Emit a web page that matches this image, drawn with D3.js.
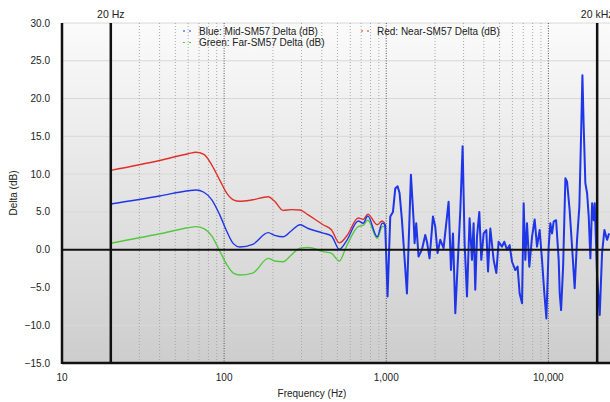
<!DOCTYPE html>
<html>
<head>
<meta charset="utf-8">
<script src="https://cdn.jsdelivr.net/npm/d3@7"></script>
<style>
  body { margin: 0; background: #fff; }
  text { font-family: "Liberation Sans", Arial, sans-serif; fill: #222; }
</style>
</head>
<body>
<svg id="chart"></svg>
<script>
// low-frequency part: three mic deltas (Hz, dB)
const lowFreqs = [20, 40, 60, 67, 75, 84, 94, 104, 114, 125, 150, 187, 205, 231, 260, 294, 330, 408, 460, 513, 570, 672, 720, 770, 880, 944, 980];
const redValues = [10.5, 11.8, 12.7, 12.9, 12.6, 11.2, 9.2, 7.45, 6.6, 6.4, 6.6, 7.0, 6.4, 5.2, 5.3, 5.25, 4.6, 3.3, 2.6, 0.9, 1.8, 4.2, 4.0, 4.7, 3.3, 3.8, 3.5];
const blueValues = [6.05, 7.1, 7.8, 7.9, 7.6, 6.6, 4.6, 2.4, 0.8, 0.35, 0.7, 2.25, 1.9, 1.7, 2.5, 3.3, 2.8, 2.2, 1.8, 0.05, 1.2, 3.8, 3.5, 4.45, 1.7, 3.5, 3.4];
const greenValues = [0.85, 2.1, 2.9, 3.05, 2.8, 1.8, -0.2, -2.0, -3.1, -3.35, -3.1, -1.15, -1.5, -1.6, -0.7, 0.2, 0.3, -0.25, -0.5, -1.5, 0.5, 3.05, 3.2, 3.9, 1.5, 3.05, 3.1];

// high-frequency part: blue only (Hz, dB)
const hfFreqs = [986, 1019, 1059, 1100, 1137, 1175, 1208, 1250, 1342, 1420, 1475, 1496, 1531, 1582, 1660, 1740, 1783, 1850, 1942, 2006,
  2073, 2154, 2258, 2425, 2508, 2581, 2667, 2864, 2959, 3044, 3148, 3267, 3379, 3458, 3541, 3628, 3750, 3857, 3988, 4143,
  4244, 4386, 4596, 4775, 4933, 5176, 5348, 5559, 5768, 5970, 6253, 6460, 6650, 6880, 7041, 7209, 7384, 7632, 7929, 8232,
  8511, 8838, 9138, 9446, 9720, 10047, 10285, 10537, 10783, 11163, 11580, 11750, 11980, 12330, 12739, 13040, 13526, 14000, 14530, 15030, 15530,
  15910, 16220, 16520, 16910, 17330, 17740, 18160, 18620, 19050, 19320, 19990, 20740, 21440, 22170, 23020, 23700];
const hfValues = [3.05, -6.2, 4.4, 5.0, 8.1, 8.4, 7.5, 3.9, -5.8, 9.9, 3.9, 0.85, 3.5, -0.9, 0.0, 1.95, 1.05, -1.15, 4.4, 3.05,
  -0.45, 1.3, 0.2, 6.35, -2.7, 2.15, -8.4, 5.25, 13.7, 0.85, -6.2, 4.15, -1.35, 3.5, -5.3, 1.7, 5.0, -1.35, 2.15, 2.6,
  -2.9, 2.8, -1.35, -3.1, 1.05, 0.4, 1.05, 0.0, 0.6, -1.6, -2.7, -2.25, -5.8, -7.1, 6.15, -1.35, 3.5, -2.25, 1.7, 4.0,
  0.4, 2.6, -1.35, -5.8, -9.1, 0.4, 3.5, 2.15, 3.7, 3.9, -1.35, -5.8, -8.0, -2.25, 9.45, 9.0, 5.25, 0.4, -5.1, 1.3, 5.7,
  15.0, 23.1, 16.3, 8.8, 7.5, 4.4, -1.15, 6.15, 3.9, 6.15, -3.6, -8.65, -0.45, 2.6, 1.3, 2.15];

const yTicks = [-15, -10, -5, 0, 5, 10, 15, 20, 25, 30];
const xTicks = [10, 100, 1000, 10000];
const gridFreqs = [20, 30, 40, 50, 60, 70, 80, 90, 200, 300, 400, 500, 600, 700, 800, 900,
  2000, 3000, 4000, 5000, 6000, 7000, 8000, 9000, 20000];
const decadeFreqs = [100, 1000, 10000];

const width = 610, height = 402;
const margin = { left: 62, right: 610, top: 23, bottom: 363 };

const svg = d3.select('#chart').attr('width', width).attr('height', height);

const x = d3.scaleLog().domain([10, 24000]).range([margin.left, margin.right]);
const y = d3.scaleLinear().domain([-15, 30]).range([margin.bottom, margin.top]);

const defs = svg.append('defs');
const grad = defs.append('linearGradient')
  .attr('id', 'bg').attr('x1', 0).attr('y1', 0).attr('x2', 0).attr('y2', 1);
grad.append('stop').attr('offset', '0%').attr('stop-color', '#fbfbfb');
grad.append('stop').attr('offset', '100%').attr('stop-color', '#cdcdcd');

svg.append('rect')
  .attr('x', margin.left).attr('y', margin.top)
  .attr('width', margin.right - margin.left).attr('height', margin.bottom - margin.top)
  .attr('fill', 'url(#bg)');

// horizontal grid
svg.append('g').selectAll('line')
  .data(yTicks)
  .enter().append('line')
  .attr('x1', margin.left).attr('x2', margin.right)
  .attr('y1', d => y(d)).attr('y2', d => y(d))
  .attr('stroke', '#d8d8d8').attr('stroke-width', 1);

// vertical grid
svg.append('g').selectAll('line')
  .data(gridFreqs)
  .enter().append('line')
  .attr('x1', d => x(d)).attr('x2', d => x(d))
  .attr('y1', margin.top).attr('y2', margin.bottom)
  .attr('stroke', '#a8a8a8').attr('stroke-width', 1)
  .attr('stroke-dasharray', '1,2');

svg.append('g').selectAll('line')
  .data(decadeFreqs)
  .enter().append('line')
  .attr('x1', d => x(d)).attr('x2', d => x(d))
  .attr('y1', margin.top).attr('y2', margin.bottom)
  .attr('stroke', '#555').attr('stroke-width', 1)
  .attr('stroke-dasharray', '1,1.5');

// curves
const line = d3.line()
  .x(d => x(d[0]))
  .y(d => y(d[1]))
  .curve(d3.curveMonotoneX);

const hfLine = d3.line()
  .x(d => x(d[0]))
  .y(d => y(d[1]));

svg.append('path')
  .datum(lowFreqs.map((f, i) => [f, greenValues[i]]))
  .attr('d', line).attr('fill', 'none')
  .attr('stroke', '#55c840').attr('stroke-width', 1.4);

svg.append('path')
  .datum(lowFreqs.map((f, i) => [f, redValues[i]]))
  .attr('d', line).attr('fill', 'none')
  .attr('stroke', '#e0302a').attr('stroke-width', 1.4);

svg.append('path')
  .datum(lowFreqs.map((f, i) => [f, blueValues[i]]))
  .attr('d', line).attr('fill', 'none')
  .attr('stroke', '#1f35e8').attr('stroke-width', 1.4);

const hfData = [[lowFreqs[lowFreqs.length - 1], blueValues[blueValues.length - 1]]]
  .concat(hfFreqs.map((f, i) => [f, hfValues[i]]));

svg.append('path')
  .datum(hfData)
  .attr('d', hfLine).attr('fill', 'none')
  .attr('stroke', '#1f35e8').attr('stroke-width', 2)
  .attr('stroke-linejoin', 'round');

// heavy lines: borders, 20 Hz / 20 kHz, zero
const heavy = svg.append('g').attr('stroke', '#111');
heavy.append('line').attr('x1', margin.left).attr('x2', margin.left)
  .attr('y1', margin.top).attr('y2', margin.bottom + 1).attr('stroke-width', 2.5);
heavy.append('line').attr('x1', margin.left).attr('x2', margin.right)
  .attr('y1', margin.bottom).attr('y2', margin.bottom).attr('stroke-width', 2.5);
heavy.append('line').attr('x1', margin.left).attr('x2', margin.right)
  .attr('y1', y(0)).attr('y2', y(0)).attr('stroke-width', 2);
heavy.selectAll('.limit')
  .data([20, 20000])
  .enter().append('line')
  .attr('x1', d => x(d)).attr('x2', d => x(d))
  .attr('y1', margin.top).attr('y2', margin.bottom)
  .attr('stroke-width', 2.5);

svg.selectAll('.limit-label')
  .data([[20, '20 Hz'], [20000, '20 kHz']])
  .enter().append('text')
  .attr('x', d => x(d[0]))
  .attr('y', 18)
  .attr('text-anchor', 'middle')
  .style('font-size', '10.5px')
  .text(d => d[1]);

// axes labels
svg.append('g').selectAll('text')
  .data(yTicks)
  .enter().append('text')
  .attr('x', 50).attr('y', d => y(d))
  .attr('dy', '0.35em')
  .attr('text-anchor', 'end')
  .style('font-size', '10px')
  .text(d => d3.format('.1f')(d));

svg.append('g').selectAll('text')
  .data(xTicks)
  .enter().append('text')
  .attr('x', d => x(d)).attr('y', 381)
  .attr('text-anchor', 'middle')
  .style('font-size', '10px')
  .text(d => d3.format(',')(d));

svg.append('text')
  .attr('x', 312).attr('y', 397)
  .attr('text-anchor', 'middle')
  .style('font-size', '10px')
  .text('Frequency (Hz)');

svg.append('text')
  .attr('transform', `translate(17,${(margin.top + margin.bottom) / 2}) rotate(-90)`)
  .attr('text-anchor', 'middle')
  .style('font-size', '10px')
  .text('Delta (dB)');

// legend
const legend = [
  { label: 'Blue: Mid-SM57 Delta (dB)', color: '#1f35e8', x: 183, y: 31 },
  { label: 'Green: Far-SM57 Delta (dB)', color: '#55c840', x: 183, y: 42.5 },
  { label: 'Red: Near-SM57 Delta (dB)', color: '#e0302a', x: 361, y: 31 }
];
const lg = svg.append('g').selectAll('g')
  .data(legend)
  .enter().append('g')
  .attr('transform', d => `translate(${d.x},${d.y})`);
lg.append('line')
  .attr('x1', 0).attr('x2', 10).attr('y1', 0).attr('y2', 0)
  .attr('stroke', d => d.color).attr('stroke-width', 1.2)
  .attr('stroke-dasharray', '2,4');
lg.append('text')
  .attr('x', 16).attr('dy', '0.35em')
  .style('font-size', '10px')
  .text(d => d.label);
</script>
</body>
</html>
